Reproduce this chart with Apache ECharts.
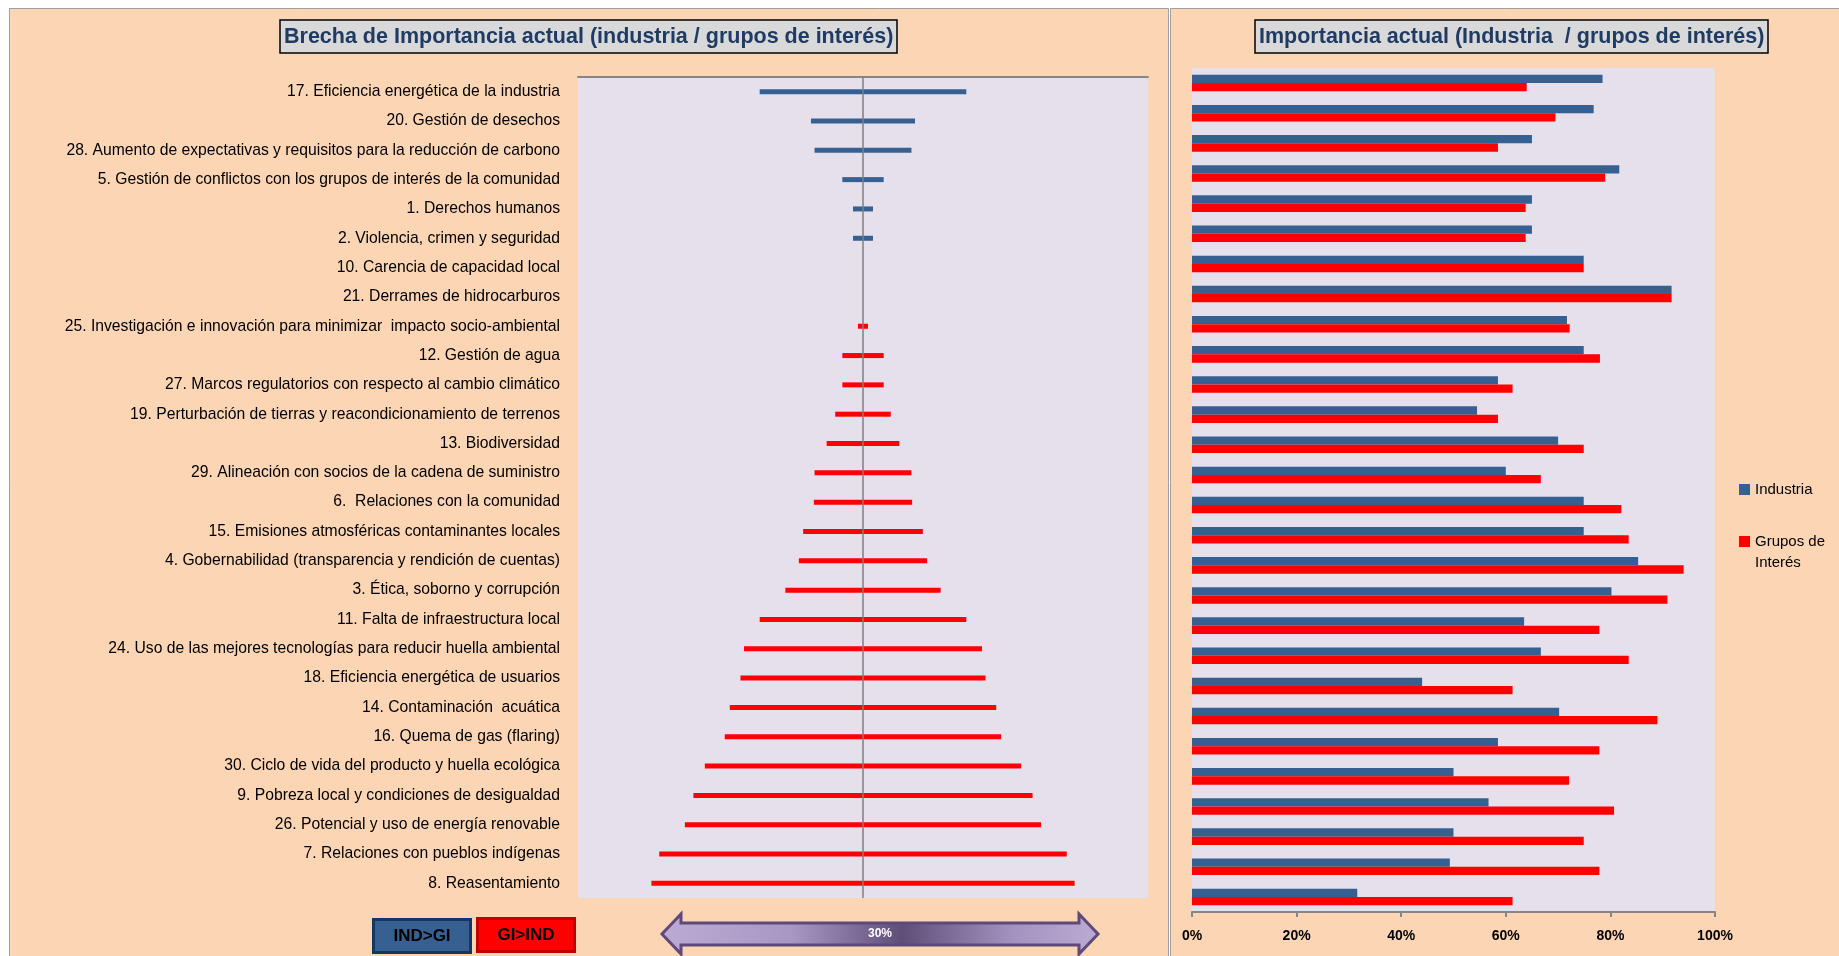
<!DOCTYPE html>
<html>
<head>
<meta charset="utf-8">
<script src="https://cdn.jsdelivr.net/npm/echarts@6/dist/echarts.min.js"></script>
<style>
html,body{margin:0;padding:0;background:#ffffff;}
#chart{width:1839px;height:956px;}
</style>
</head>
<body>
<div id="chart"></div>
<script>
// ---- Data ----
const categories = [
  "17. Eficiencia energética de la industria",
  "20. Gestión de desechos",
  "28. Aumento de expectativas y requisitos para la reducción de carbono",
  "5. Gestión de conflictos con los grupos de interés de la comunidad",
  "1. Derechos humanos",
  "2. Violencia, crimen y seguridad",
  "10. Carencia de capacidad local",
  "21. Derrames de hidrocarburos",
  "25. Investigación e innovación para minimizar  impacto socio-ambiental",
  "12. Gestión de agua",
  "27. Marcos regulatorios con respecto al cambio climático",
  "19. Perturbación de tierras y reacondicionamiento de terrenos",
  "13. Biodiversidad",
  "29. Alineación con socios de la cadena de suministro",
  "6.  Relaciones con la comunidad",
  "15. Emisiones atmosféricas contaminantes locales",
  "4. Gobernabilidad (transparencia y rendición de cuentas)",
  "3. Ética, soborno y corrupción",
  "11. Falta de infraestructura local",
  "24. Uso de las mejores tecnologías para reducir huella ambiental",
  "18. Eficiencia energética de usuarios",
  "14. Contaminación  acuática",
  "16. Quema de gas (flaring)",
  "30. Ciclo de vida del producto y huella ecológica",
  "9. Pobreza local y condiciones de desigualdad",
  "26. Potencial y uso de energía renovable",
  "7. Relaciones con pueblos indígenas",
  "8. Reasentamiento"
];
// Importancia actual (%), right chart
const industria = [78.5, 76.8, 65.0, 81.7, 65.0, 65.0, 74.9, 91.7, 71.7, 74.9, 58.5, 54.5, 70.0, 60.0,
                   74.9, 74.9, 85.3, 80.2, 63.5, 66.7, 44.0, 70.2, 58.5, 50.0, 56.7, 50.0, 49.3, 31.6];
const grupos    = [64.0, 69.5, 58.5, 79.0, 63.8, 63.8, 74.9, 91.7, 72.2, 78.0, 61.3, 58.5, 74.9, 66.7,
                   82.1, 83.5, 94.0, 90.9, 77.9, 83.5, 61.3, 89.0, 77.9, 72.1, 80.7, 74.9, 77.9, 61.3];
// Brecha (ancho total de la barra, %), left chart
const brecha    = [14.5, 7.3, 6.8, 2.9, 1.4, 1.4, 0, 0, 0.7, 2.9, 2.9, 3.9, 5.1, 6.8,
                   6.9, 8.4, 9.0, 10.9, 14.5, 16.7, 17.2, 18.7, 19.4, 22.2, 23.8, 25.0, 28.6, 29.7];
const xTicksRight = [0, 20, 40, 60, 80, 100];

// ---- Styles ----
const FONT = "'Liberation Sans', Arial, sans-serif";
const BLUE = '#376092';
const RED = '#FF0000';
const PEACH = '#FCD5B4';
const PLOT = '#E6E0EC';
const TITLE_COLOR = '#1F3B63';

const gapColor = (i) => industria[i] > grupos[i] ? BLUE : RED;

const chart = echarts.init(document.getElementById('chart'), null, {renderer: 'canvas'});

const option = {
  backgroundColor: '#ffffff',
  animation: false,
  textStyle: {fontFamily: FONT},
  title: [
    {
      text: 'Brecha de Importancia actual (industria / grupos de interés)',
      left: 280, top: 20,
      padding: [6, 4, 5, 4],
      backgroundColor: '#D9D9D9', borderColor: '#000', borderWidth: 1.5,
      textStyle: {fontFamily: FONT, fontSize: 21.5, fontWeight: 'bold', color: TITLE_COLOR}
    },
    {
      text: 'Importancia actual (Industria  / grupos de interés)',
      left: 1255, top: 20,
      padding: [6, 4, 5, 4],
      backgroundColor: '#D9D9D9', borderColor: '#000', borderWidth: 1.5,
      textStyle: {fontFamily: FONT, fontSize: 21.5, fontWeight: 'bold', color: TITLE_COLOR}
    }
  ],
  legend: [
    {
      data: ['Industria'], orient: 'vertical', left: 1739, top: 482, padding: 0,
      itemWidth: 11, itemHeight: 11, icon: 'rect',
      textStyle: {fontFamily: FONT, fontSize: 15, color: '#000'}
    },
    {
      data: ['Grupos de Interés'], orient: 'vertical', left: 1739, top: 510, padding: 0,
      itemWidth: 11, itemHeight: 11, icon: 'rect',
      formatter: () => ' \nGrupos de\nInterés',
      textStyle: {fontFamily: FONT, fontSize: 15, color: '#000', lineHeight: 21}
    }
  ],
  grid: [
    {left: 578, top: 77, width: 570, height: 821, show: true, backgroundColor: PLOT, borderWidth: 0, containLabel: false},
    {left: 1192, top: 68, width: 523, height: 844, show: true, backgroundColor: PLOT, borderWidth: 0, containLabel: false}
  ],
  xAxis: [
    {
      gridIndex: 0, type: 'value', min: -20, max: 20, position: 'top',
      axisLine: {show: true, onZero: false, lineStyle: {color: '#868686', width: 2}},
      axisTick: {show: false}, axisLabel: {show: false}, splitLine: {show: false}
    },
    {
      gridIndex: 1, type: 'value', min: xTicksRight[0], max: xTicksRight[xTicksRight.length - 1], interval: 20,
      position: 'bottom',
      axisLine: {show: true, onZero: false, lineStyle: {color: '#868686', width: 2}},
      axisTick: {show: true, length: 5, lineStyle: {color: '#868686', width: 2}},
      axisLabel: {show: true, formatter: '{value}%', fontFamily: FONT, fontSize: 14, fontWeight: 'bold', color: '#000', margin: 17},
      splitLine: {show: false}
    }
  ],
  yAxis: [
    {
      gridIndex: 0, type: 'category', data: categories, inverse: true,
      axisLine: {show: false}, axisTick: {show: false}, splitLine: {show: false},
      axisLabel: {fontFamily: FONT, fontSize: 15.7, color: '#000', margin: 18, padding: [4, 0, 0, 0]}
    },
    {
      gridIndex: 1, type: 'category', data: categories, inverse: true,
      axisLine: {show: false}, axisTick: {show: false}, splitLine: {show: false},
      axisLabel: {show: false}
    }
  ],
  series: [
    {
      name: 'Brecha-', type: 'bar', xAxisIndex: 0, yAxisIndex: 0,
      data: brecha.map((v, i) => ({value: -v / 2, itemStyle: {color: gapColor(i)}})),
      barWidth: 5, barGap: '-100%', silent: true,
      markLine: {
        silent: true, symbol: 'none', label: {show: false},
        lineStyle: {color: '#7F7F7F', width: 1.5, type: 'solid'},
        data: [{xAxis: 0}]
      }
    },
    {
      name: 'Brecha+', type: 'bar', xAxisIndex: 0, yAxisIndex: 0,
      data: brecha.map((v, i) => ({value: v / 2, itemStyle: {color: gapColor(i)}})),
      barWidth: 5, barGap: '-100%', silent: true
    },
    {
      name: 'Industria', type: 'bar', xAxisIndex: 1, yAxisIndex: 1,
      data: industria, barWidth: 8.3, barGap: '0%',
      itemStyle: {color: BLUE}
    },
    {
      name: 'Grupos de Interés', type: 'bar', xAxisIndex: 1, yAxisIndex: 1,
      data: grupos, barWidth: 8.3, barGap: '0%',
      itemStyle: {color: RED}
    }
  ],
  graphic: [
    // panels
    {type: 'rect', z: -10, silent: true, shape: {x: 9.5, y: 8.5, width: 1159, height: 960},
     style: {fill: PEACH, stroke: '#A0A0A0', lineWidth: 1}},
    {type: 'rect', z: -10, silent: true, shape: {x: 1170.5, y: 8.5, width: 700, height: 960},
     style: {fill: PEACH, stroke: '#A0A0A0', lineWidth: 1}},
    // IND>GI / GI>IND boxes
    {type: 'group', left: 372, top: 918, children: [
      {type: 'rect', shape: {x: 1.5, y: 1.5, width: 97, height: 33}, style: {fill: BLUE, stroke: '#17375E', lineWidth: 3}},
      {type: 'text', x: 50, y: 18.5, style: {text: 'IND>GI', fill: '#000', font: "bold 17px 'Liberation Sans', Arial, sans-serif", align: 'center', verticalAlign: 'middle'}}
    ]},
    {type: 'group', left: 476, top: 917, children: [
      {type: 'rect', shape: {x: 1.5, y: 1.5, width: 97, height: 33}, style: {fill: RED, stroke: '#C00000', lineWidth: 3}},
      {type: 'text', x: 50, y: 18.5, style: {text: 'GI>IND', fill: '#000', font: "bold 17px 'Liberation Sans', Arial, sans-serif", align: 'center', verticalAlign: 'middle'}}
    ]},
    // 30% scale arrow
    {type: 'polygon', silent: true,
     shape: {points: [[662, 934], [681, 914], [681, 923], [1079, 923], [1079, 914], [1098, 934], [1079, 954], [1079, 945], [681, 945], [681, 954]]},
     style: {
       fill: new echarts.graphic.LinearGradient(0, 0, 1, 0, [
         {offset: 0, color: '#BBABD4'},
         {offset: 0.3, color: '#A897C3'},
         {offset: 0.55, color: '#5F4E78'},
         {offset: 0.8, color: '#A392BF'},
         {offset: 1, color: '#BBABD4'}
       ]),
       stroke: '#5F497A', lineWidth: 3
     }},
    {type: 'text', x: 880, y: 934, silent: true,
     style: {text: '30%', fill: '#ffffff', font: "bold 12px 'Liberation Sans', Arial, sans-serif", align: 'center', verticalAlign: 'middle'}}
  ]
};

chart.setOption(option);
</script>
</body>
</html>
